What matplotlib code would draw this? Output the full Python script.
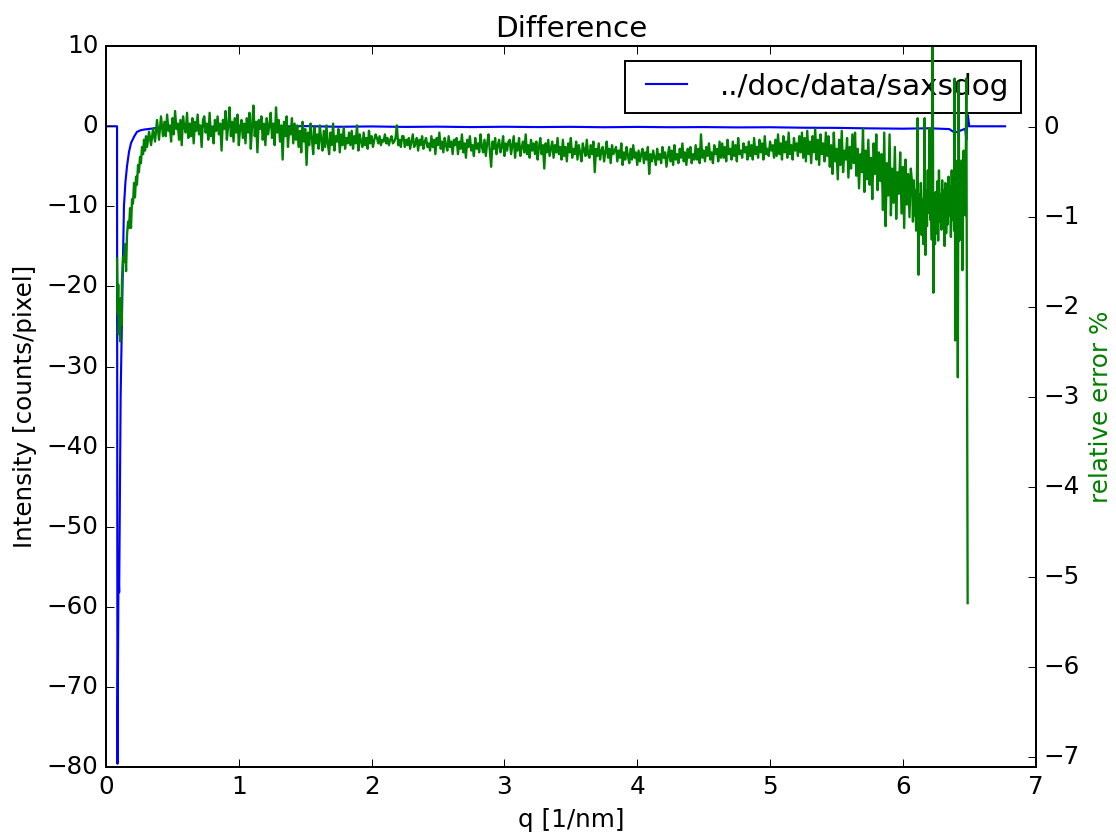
import matplotlib
matplotlib.use("Agg")
import numpy as np
import matplotlib.pyplot as plt

plt.style.use("classic")
plt.rcParams["font.size"] = 12.7

# intensity difference (counts/pixel) vs q
q_diff = [0.0, 0.083, 0.086, 0.094, 0.099, 0.110, 0.120, 0.128, 0.135, 0.146,
          0.158, 0.173, 0.188, 0.211, 0.233, 0.26, 0.29, 0.34, 0.40, 0.44,
          0.6, 0.8, 1.0, 1.25, 1.5, 1.75, 2.0, 2.25, 2.5, 2.75,
          3.0, 3.25, 3.5, 3.75, 4.0, 4.25, 4.5, 4.75, 5.0, 5.25,
          5.5, 5.75, 6.0, 6.2, 6.35, 6.39, 6.44, 6.47, 6.478, 6.49,
          6.50, 6.77]
diff = [0.0, 0.0, -79.6, -55.4, -58.2, -33.8, -24.0, -16.4, -10.0, -7.0,
        -5.0, -3.2, -2.1, -1.3, -0.7, -0.5, -0.4, -0.3, -0.15, 0.0,
        0.05, -0.05, 0.03, -0.04, 0.02, -0.06, -0.02, -0.08, -0.05, -0.1,
        -0.06, -0.1, -0.07, -0.12, -0.08, -0.12, -0.1, -0.14, -0.12, -0.18,
        -0.2, -0.26, -0.3, -0.25, -0.35, -0.8, -0.5, -0.3, -1.7, 1.4,
        0.0, 0.0]

# relative error (%) - low q rise
q_err_start = [0.083, 0.088, 0.092, 0.096, 0.101, 0.106, 0.111, 0.116, 0.120, 0.128,
               0.135, 0.143, 0.151, 0.158, 0.166, 0.173, 0.181, 0.188, 0.196, 0.203,
               0.211, 0.218, 0.226, 0.233, 0.241, 0.248, 0.256, 0.263, 0.271, 0.279,
               0.286, 0.294, 0.301, 0.309, 0.324, 0.339, 0.354, 0.369, 0.384, 0.399,
               0.414, 0.429]
err_start = [-1.46, -2.07, -1.75, -2.30, -2.05, -2.38, -1.90, -2.20, -1.70, -1.44,
             -1.50, -1.30, -1.60, -1.20, -1.05, -1.12, -0.90, -1.12, -0.80, -0.85,
             -0.62, -0.78, -0.55, -0.64, -0.42, -0.50, -0.33, -0.40, -0.22, -0.30,
             -0.14, -0.26, -0.10, -0.22, -0.05, -0.20, -0.02, -0.16, 0.08, -0.14,
             0.12, -0.10]

# relative error (%) on the regular q grid, 0.44 .. 6.06 step 0.01
q_grid_first, q_grid_last = 0.44, 6.06
err_grid = [
    0.06, -0.10, 0.14, -0.04, 0.02, -0.16, 0.10, -0.08, 0.18, -0.02, 0.04, -0.14, 0.08, -0.20, 0.12, 0.00, -0.06, 0.16, -0.12, 0.04,
    -0.10, 0.10, -0.18, 0.06, -0.04, 0.14, -0.08, 0.02, -0.22, 0.08, 0.12, -0.06, 0.04, -0.14, 0.16, -0.10, 0.00, -0.18, 0.08, -0.04,
    0.12, -0.08, 0.04, -0.26, 0.08, -0.02, 0.18, -0.14, 0.02, 0.22, -0.10, 0.06, -0.16, 0.10, -0.06, 0.14, -0.20, 0.00, 0.08, -0.12,
    0.04, -0.18, 0.10, -0.06, 0.16, -0.24, 0.02, 0.24, -0.10, 0.06, -0.28, 0.08, -0.02, 0.12, -0.14, 0.04, -0.20, 0.10, -0.08, 0.02,
    0.16, -0.12, 0.04, -0.20, 0.22, -0.06, 0.08, -0.16, 0.02, -0.36, 0.06, -0.10, 0.12, -0.22, 0.00, -0.08, 0.10, -0.18, 0.04, -0.14,
    0.02, -0.22, -0.04, -0.28, 0.06, -0.16, -0.02, -0.42, -0.06, -0.20, 0.04, -0.12, -0.30, 0.00, -0.18, -0.08, -0.24, 0.02, -0.14, -0.26,
    -0.04, -0.22, 0.02, -0.18, -0.30, -0.06, -0.20, 0.04, -0.26, -0.10, -0.16, -0.02, -0.28, -0.08, -0.20, 0.00, -0.24, -0.12, -0.18, -0.06,
    -0.20, -0.04, -0.24, -0.10, -0.18, 0.02, -0.26, -0.08, -0.16, -0.22, -0.06, -0.20, -0.12, -0.24, -0.04, -0.18, -0.10, -0.22, -0.14, -0.08,
    -0.12, -0.18, -0.10, -0.20, -0.14, -0.16, -0.08, -0.18, -0.12, -0.20, -0.14, -0.10, -0.18, -0.16, -0.12, 0.02, -0.20, -0.14, -0.22, -0.10,
    -0.10, -0.22, -0.14, -0.20, -0.12, -0.24, -0.16, -0.08, -0.22, -0.18, -0.12, -0.26, -0.14, -0.20, -0.10, -0.24, -0.16, -0.12, -0.22, -0.18,
    -0.26, -0.10, -0.22, -0.14, -0.30, -0.12, -0.20, -0.06, -0.24, -0.16, -0.28, -0.12, -0.20, -0.26, -0.10, -0.22, -0.16, -0.30, -0.14, -0.20,
    -0.12, -0.30, -0.16, -0.24, -0.08, -0.28, -0.18, -0.34, -0.14, -0.22, -0.10, -0.26, -0.20, -0.32, -0.12, -0.24, -0.18, -0.28, -0.08, -0.22,
    -0.28, -0.14, -0.32, -0.18, -0.08, -0.26, -0.44, -0.16, -0.24, -0.12, -0.30, -0.20, -0.14, -0.28, -0.22, -0.10, -0.32, -0.18, -0.26, -0.16,
    -0.14, -0.30, -0.20, -0.10, -0.34, -0.18, -0.26, -0.12, -0.32, -0.22, -0.16, -0.28, -0.08, -0.30, -0.20, -0.34, -0.14, -0.26, -0.18, -0.30,
    -0.16, -0.36, -0.22, -0.12, -0.30, -0.20, -0.46, -0.18, -0.28, -0.14, -0.32, -0.24, -0.16, -0.34, -0.20, -0.28, -0.12, -0.30, -0.22, -0.36,
    -0.14, -0.32, -0.22, -0.38, -0.18, -0.28, -0.12, -0.34, -0.24, -0.30, -0.16, -0.36, -0.20, -0.28, -0.38, -0.18, -0.26, -0.32, -0.14, -0.30,
    -0.34, -0.20, -0.30, -0.16, -0.50, -0.24, -0.32, -0.18, -0.36, -0.26, -0.22, -0.38, -0.28, -0.16, -0.34, -0.24, -0.40, -0.20, -0.30, -0.26,
    -0.22, -0.38, -0.26, -0.34, -0.18, -0.42, -0.28, -0.36, -0.22, -0.32, -0.40, -0.24, -0.36, -0.20, -0.34, -0.28, -0.42, -0.26, -0.38, -0.30,
    -0.24, -0.40, -0.28, -0.36, -0.22, -0.52, -0.30, -0.38, -0.26, -0.34, -0.42, -0.24, -0.36, -0.30, -0.40, -0.22, -0.34, -0.28, -0.44, -0.32,
    -0.22, -0.38, -0.26, -0.42, -0.20, -0.36, -0.30, -0.40, -0.24, -0.34, -0.18, -0.38, -0.28, -0.42, -0.24, -0.34, -0.22, -0.40, -0.30, -0.36,
    -0.20, -0.36, -0.24, -0.40, -0.08, -0.34, -0.26, -0.38, -0.22, -0.32, -0.18, -0.36, -0.28, -0.40, -0.20, -0.30, -0.24, -0.38, -0.16, -0.34,
    -0.18, -0.34, -0.22, -0.38, -0.14, -0.30, -0.24, -0.36, -0.16, -0.32, -0.20, -0.38, -0.12, -0.30, -0.26, -0.34, -0.18, -0.28, -0.22, -0.36,
    -0.16, -0.32, -0.20, -0.36, -0.12, -0.30, -0.22, -0.34, -0.14, -0.28, -0.18, -0.36, -0.10, -0.30, -0.24, -0.32, -0.16, -0.26, -0.20, -0.34,
    -0.14, -0.32, -0.08, -0.30, -0.18, -0.36, -0.10, -0.28, -0.16, -0.34, -0.06, -0.30, -0.20, -0.36, -0.12, -0.26, -0.18, -0.32, -0.10, -0.28,
    -0.06, -0.34, -0.12, -0.38, -0.04, -0.30, -0.16, -0.40, -0.10, -0.28, -0.02, -0.36, -0.14, -0.42, -0.08, -0.30, -0.18, -0.38, -0.06, -0.32,
    -0.10, -0.44, -0.20, -0.52, -0.06, -0.38, -0.24, -0.58, -0.14, -0.42, -0.04, -0.50, -0.26, -0.36, -0.12, -0.56, -0.22, -0.46, -0.08, -0.40,
    -0.06, -0.54, -0.24, -0.68, -0.30, -0.50, -0.02, -0.72, -0.26, -0.58, -0.14, -0.64, -0.34, -0.80, -0.18, -0.52, -0.08, -0.70, -0.28, -0.60,
    -0.30, -0.92, -0.06, -1.10, -0.40, -0.76, -0.08, -0.98, -0.46, -0.84, -0.22, -1.02, -0.50, -0.74, -0.28, -0.96, -0.44, -1.12, -0.36, -0.86,
    -0.52, -1.00, -0.46,
]

# relative error (%) - noisy high q end
q_err_tail = [6.070, 6.076, 6.082, 6.088, 6.094, 6.100, 6.106, 6.111, 6.118, 6.124,
              6.130, 6.136, 6.142, 6.148, 6.154, 6.160, 6.164, 6.170, 6.176, 6.182,
              6.188, 6.194, 6.200, 6.206, 6.212, 6.218, 6.224, 6.230, 6.236, 6.242,
              6.248, 6.254, 6.260, 6.266, 6.272, 6.278, 6.284, 6.290, 6.296, 6.302,
              6.308, 6.314, 6.320, 6.326, 6.332, 6.338, 6.344, 6.350, 6.356, 6.362,
              6.368, 6.374, 6.380, 6.386, 6.390, 6.395, 6.400, 6.405, 6.410, 6.414,
              6.420, 6.426, 6.432, 6.438, 6.443, 6.448, 6.453, 6.458, 6.462, 6.466,
              6.470, 6.474, 6.478, 6.488]
err_tail = [-0.62, -1.05, -0.59, -0.98, -0.70, -1.15, -0.55, 0.10, -1.64, -0.75,
            -1.08, -0.62, -1.20, -0.80, -1.30, -0.58, 0.10, -1.42, -0.70, -1.10,
            -0.48, -0.95, -0.01, -1.03, -0.66, -1.25, 1.60, -1.84, -0.81, -1.30,
            -0.72, -1.18, -0.60, -1.26, -0.48, -1.05, -0.75, -1.14, -0.59, -1.00,
            -0.70, -1.32, -0.62, -1.18, -0.76, -1.08, -0.55, -0.98, -0.66, -1.22,
            -0.48, -1.03, -0.72, -1.15, 0.54, -2.37, -0.60, -1.10, -0.37, -2.78,
            0.50, -1.26, -0.55, -1.00, -0.37, -1.59, -0.45, -0.26, -0.90, -0.40,
            -0.98, -0.35, 0.54, -5.29]

q_grid = np.linspace(q_grid_first, q_grid_last, len(err_grid))
q_err = np.concatenate([q_err_start, q_grid, q_err_tail])
rel_err = np.concatenate([err_start, err_grid, err_tail])

fig = plt.figure(figsize=(8, 840 / 139.5), dpi=139.5)
fig.subplots_adjust(left=0.095, right=0.928, top=0.945, bottom=0.087)
ax1 = fig.add_subplot(111)
ax1.plot(q_diff, diff, "b-", lw=1.1, label="../doc/data/saxsdog")
ax1.set_xlim(0, 7)
ax1.set_ylim(-80, 10)
ax1.set_xlabel("q [1/nm]")
ax1.set_ylabel("Intensity [counts/pixel]")
ax1.set_title("Difference")
ax1.legend(loc="upper right")

ax2 = ax1.twinx()
ax2.plot(q_err, rel_err, "g-", lw=1.2)
ax2.set_ylim(-7.11, 0.9)
ax2.set_xlim(0, 7)
ax2.set_ylabel("relative error %", color="g")

fig.savefig("out.png", dpi=139.5)
